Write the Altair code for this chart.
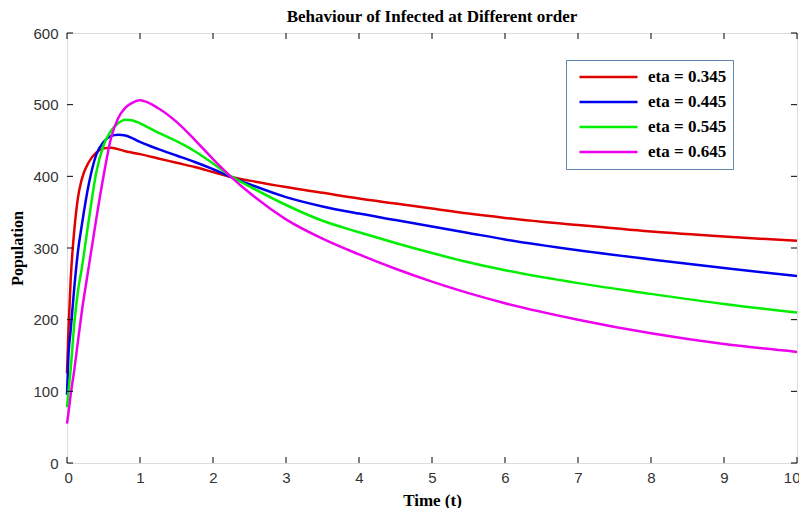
import altair as alt
import pandas as pd

# ---- data ----
t_vals = [0, 0.02, 0.05, 0.1, 0.15, 0.2, 0.3, 0.4, 0.5, 0.6, 0.7, 0.8, 0.9, 1.0,
          1.25, 1.5, 1.75, 2.0, 2.25, 2.5, 3, 3.5, 4, 4.5, 5, 5.5, 6, 7, 8, 9, 10]

eta_0345 = [125, 185, 255, 325, 370, 395, 420, 433, 439, 440, 438, 435, 433, 431,
            425, 419, 413, 406, 399, 394, 385, 377, 369, 362, 355, 348, 342, 332, 323, 316, 310]
eta_0445 = [95, 150, 185, 245, 295, 330, 390, 430, 448, 456, 458, 457, 453, 448,
            438, 429, 420, 410, 399, 389, 371, 358, 348, 339, 330, 321, 312, 297, 284, 272, 261]
eta_0545 = [78, 100, 130, 195, 240, 270, 340, 405, 443, 463, 474, 479, 478, 474,
            461, 449, 435, 418, 400, 386, 360, 338, 322, 307, 293, 280, 269, 251, 236, 222, 210]
eta_0645 = [55, 70, 95, 130, 170, 209, 275, 340, 400, 452, 481, 496, 503, 506,
            495, 476, 451, 424, 399, 377, 340, 313, 291, 271, 253, 237, 223, 200, 181, 166, 155]

series_names = ["eta = 0.345", "eta = 0.445", "eta = 0.545", "eta = 0.645"]
series_colors = ["#e00000", "#0000ee", "#00ee00", "#ee00ee"]

x_ticks = [0, 1, 2, 3, 4, 5, 6, 7, 8, 9, 10]
y_ticks = [0, 100, 200, 300, 400, 500, 600]

rows = []
for name, vals in zip(series_names, [eta_0345, eta_0445, eta_0545, eta_0645]):
    for t, v in zip(t_vals, vals):
        rows.append({"t": t, "value": v, "series": name})
df = pd.DataFrame(rows)

W, H = 730, 430
TL = 6  # inward tick length
TICK_FONT = "Liberation Sans"

xs = alt.Scale(domain=[0, 10], nice=False, zero=False)
ys = alt.Scale(domain=[0, 600], nice=False, zero=False)

lines = alt.Chart(df).mark_line(strokeWidth=2.5, interpolate="monotone").encode(
    x=alt.X("t:Q", scale=xs, title="Time (t)",
            axis=alt.Axis(values=x_ticks, format="d", ticks=False, domain=False, grid=False,
                          labelFont=TICK_FONT, labelFontSize=15, labelColor="#333",
                          labelPadding=7, labelFlush=True, labelFlushOffset=3,
                          titleFont="Liberation Serif", titleFontWeight="bold",
                          titleFontSize=17, titlePadding=7, titleColor="#000")),
    y=alt.Y("value:Q", scale=ys, title="Population",
            axis=alt.Axis(values=y_ticks, format="d", ticks=False, domain=False, grid=False,
                          labelFont=TICK_FONT, labelFontSize=15, labelColor="#333",
                          labelPadding=9, titleFont="Liberation Serif", titleFontWeight="bold",
                          titleFontSize=16, titlePadding=7, titleColor="#000")),
    color=alt.Color("series:N",
                    scale=alt.Scale(domain=series_names, range=series_colors),
                    legend=alt.Legend(title=None, orient="none", legendX=499, legendY=27,
                                      symbolType="stroke", symbolSize=3364,
                                      symbolStrokeWidth=2.5, symbolOffset=6,
                                      clipHeight=22, rowPadding=3,
                                      labelFont="Liberation Serif",
                                      labelFontWeight="bold", labelFontSize=17,
                                      labelColor="#000", strokeColor="#5f87b0",
                                      fillColor="white", padding=6,
                                      labelOffset=9)),
)

xt = pd.DataFrame({"t": x_ticks})
yt = pd.DataFrame({"v": y_ticks})

xtick_bottom = alt.Chart(xt).mark_rule(color="black", strokeWidth=1).encode(
    x=alt.X("t:Q", scale=xs), y=alt.value(H), y2=alt.value(H - TL))
xtick_top = alt.Chart(xt).mark_rule(color="black", strokeWidth=1).encode(
    x=alt.X("t:Q", scale=xs), y=alt.value(0), y2=alt.value(TL))
ytick_left = alt.Chart(yt).mark_rule(color="black", strokeWidth=1).encode(
    y=alt.Y("v:Q", scale=ys), x=alt.value(0), x2=alt.value(TL))
ytick_right = alt.Chart(yt).mark_rule(color="black", strokeWidth=1).encode(
    y=alt.Y("v:Q", scale=ys), x=alt.value(W), x2=alt.value(W - TL))

chart = alt.layer(lines, xtick_bottom, xtick_top, ytick_left, ytick_right).properties(
    width=W, height=H,
    title=alt.TitleParams("Behaviour of Infected at Different order",
                          font="Liberation Serif", fontWeight="bold", fontSize=17,
                          color="#000", offset=0),
    autosize=alt.AutoSizeParams(type="none"),
    padding={"left": 59, "top": 25, "right": 2, "bottom": 45},
).configure_view(stroke="black", strokeWidth=1.2).configure(background="white")

chart.save("out.html", embed_options={"renderer": "svg", "actions": False})
